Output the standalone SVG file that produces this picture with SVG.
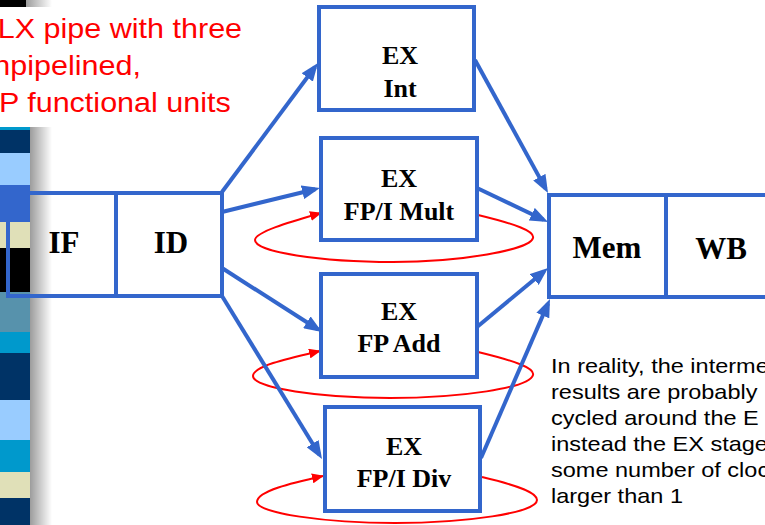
<svg xmlns="http://www.w3.org/2000/svg" width="765" height="525" viewBox="0 0 765 525">
<style>
.box{fill:#fff;stroke:#3366CC;stroke-width:4}
.open{fill:none;stroke:#3366CC;stroke-width:4}
.stage{font-family:"Liberation Serif","Times New Roman",serif;font-weight:bold;font-size:31px;fill:#000;text-anchor:middle}
.ex{font-family:"Liberation Serif","Times New Roman",serif;font-weight:bold;font-size:26px;fill:#000;text-anchor:middle}
.conn{fill:none;stroke:#3366CC;stroke-width:4}
.loop{fill:none;stroke:#FF0000;stroke-width:2}
.red{font-family:"Liberation Sans",Arial,sans-serif;font-size:27.5px;fill:#FF0000}
.note{font-family:"Liberation Sans",Arial,sans-serif;font-size:21px;fill:#000}
</style>
<defs>
<linearGradient id="shade" x1="0" y1="0" x2="1" y2="0">
<stop offset="0" stop-color="#9c9c9c"/>
<stop offset="1" stop-color="#ffffff"/>
</linearGradient>
<marker id="ab" markerUnits="userSpaceOnUse" markerWidth="18" markerHeight="14" refX="13" refY="7" orient="auto">
<path d="M0,0 L18,7 L0,14 z" fill="#3366CC"/>
</marker>
<marker id="ar" markerUnits="userSpaceOnUse" markerWidth="12" markerHeight="10" refX="11" refY="5" orient="auto">
<path d="M0,0 L12,5 L0,10 z" fill="#FF0000"/>
</marker>
</defs>

<g id="side-strip">
<rect x="0" y="0" width="26" height="7" fill="#000"/>
<rect x="26" y="0" width="26" height="7" fill="url(#shade)"/>
<rect x="0" y="127" width="30" height="3" fill="#0099CC"/>
<rect x="0" y="130" width="30" height="23" fill="#003366"/>
<rect x="0" y="153" width="30" height="32" fill="#99CCFF"/>
<rect x="0" y="185" width="30" height="37" fill="#3366CC"/>
<rect x="0" y="222" width="30" height="26" fill="#E0E0B8"/>
<rect x="0" y="248" width="30" height="44" fill="#000000"/>
<rect x="0" y="292" width="30" height="40" fill="#5792AC"/>
<rect x="0" y="332" width="30" height="21" fill="#0099CC"/>
<rect x="0" y="353" width="30" height="47" fill="#003366"/>
<rect x="0" y="400" width="30" height="40" fill="#99CCFF"/>
<rect x="0" y="440" width="30" height="32" fill="#0099CC"/>
<rect x="0" y="472" width="30" height="26" fill="#E0E0B8"/>
<rect x="0" y="498" width="30" height="27" fill="#003366"/>
<rect x="30" y="127" width="22" height="398" fill="url(#shade)"/>
</g>

<g id="connectors">
<path class="loop" marker-end="url(#ar)" d="M478,215 C515,224 535,231 533,238 C530,250 460,262 393,262 C320,262 255,252 255,240 C255,232 290,222 321,213"/>
<path class="loop" marker-end="url(#ar)" d="M478,352 C515,361 535,368 533,375 C530,388 460,398 390,398 C320,398 253,388 253,376 C253,366 290,358 320,351"/>
<path class="loop" marker-end="url(#ar)" d="M482,477 C520,486 537,493 537,500 C537,513 465,523 395,523 C325,523 257,513 257,502 C257,491 292,483 323,476"/>
<line class="conn" marker-end="url(#ab)" x1="222" y1="192" x2="315" y2="67"/>
<line class="conn" marker-end="url(#ab)" x1="222" y1="212" x2="315.1" y2="189.2"/>
<line class="conn" marker-end="url(#ab)" x1="222" y1="268" x2="317.8" y2="329.3"/>
<line class="conn" marker-end="url(#ab)" x1="222" y1="296" x2="319.4" y2="454.7"/>
<line class="conn" marker-end="url(#ab)" x1="475" y1="60" x2="545.6" y2="188.6"/>
<line class="conn" marker-end="url(#ab)" x1="477" y1="188" x2="543.5" y2="219.8"/>
<line class="conn" marker-end="url(#ab)" x1="477" y1="327" x2="544.2" y2="271.2"/>
<line class="conn" marker-end="url(#ab)" x1="481" y1="458" x2="548" y2="303.6"/>
</g>

<g id="IF">
<rect class="open" x="8" y="193" width="108" height="103"/>
<text class="stage" x="64" y="253">IF</text>
</g>
<g id="ID">
<rect class="box" x="116" y="193" width="106" height="103"/>
<text class="stage" x="171" y="253">ID</text>
</g>
<g id="EX-Int">
<rect class="box" x="319" y="7" width="155" height="103"/>
<text class="ex" x="400" y="64">EX</text>
<text class="ex" x="400" y="97">Int</text>
</g>
<g id="EX-Mult">
<rect class="box" x="321" y="138" width="156" height="102"/>
<text class="ex" x="399" y="187">EX</text>
<text class="ex" x="399" y="220">FP/I Mult</text>
</g>
<g id="EX-Add">
<rect class="box" x="321" y="274" width="156" height="103"/>
<text class="ex" x="399" y="320">EX</text>
<text class="ex" x="399" y="352">FP Add</text>
</g>
<g id="EX-Div">
<rect class="box" x="325" y="407" width="155" height="104"/>
<text class="ex" x="404" y="455">EX</text>
<text class="ex" x="404" y="487">FP/I Div</text>
</g>
<g id="Mem">
<rect class="box" x="549" y="195" width="117" height="102"/>
<text class="stage" x="607" y="258">Mem</text>
</g>
<g id="WB">
<rect class="box" x="666" y="195" width="140" height="102"/>
<text class="stage" x="721" y="259">WB</text>
</g>

<g id="title" transform="scale(1.11,1)">
<text class="red" x="-2" y="38">LX pipe with three</text>
<text class="red" x="-6" y="75">npipelined,</text>
<text class="red" x="-1" y="112">P functional units</text>
</g>

<g id="note" transform="translate(551,0) scale(1.12,1)">
<text class="note" x="0" y="373">In reality, the interme</text>
<text class="note" x="0" y="399">results are probably</text>
<text class="note" x="0" y="425">cycled around the E</text>
<text class="note" x="0" y="451">instead the EX stage</text>
<text class="note" x="0" y="477">some number of cloc</text>
<text class="note" x="0" y="503">larger than 1</text>
</g>
</svg>
